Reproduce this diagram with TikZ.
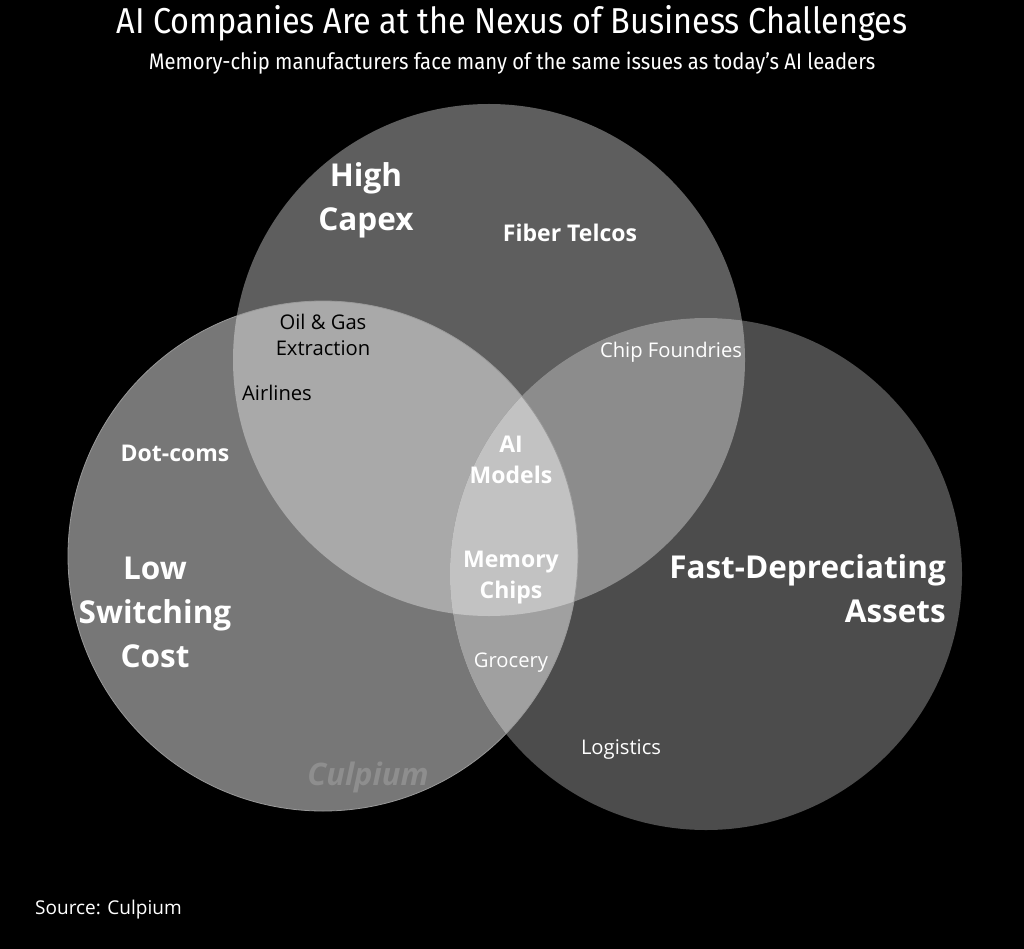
\documentclass[tikz,border=0pt]{standalone}
\usepackage{fontspec}
\setmainfont{Open Sans}
\newfontfamily\titlefont[FakeStretch=0.9]{Fira Sans}
\usetikzlibrary{positioning}

\definecolor{capexgray}{HTML}{5E5E5E}
\definecolor{switchgray}{HTML}{777777}
\definecolor{assetgray}{HTML}{4C4C4C}
\definecolor{capswitch}{HTML}{A9A9A9}
\definecolor{capasset}{HTML}{8C8C8C}
\definecolor{switchasset}{HTML}{A0A0A0}
\definecolor{nexusgray}{HTML}{C2C2C2}
\definecolor{markgray}{HTML}{8E8E8E}

\newcommand{\capexcircle}{(489,360) circle[radius=256pt]}
\newcommand{\switchcircle}{(323,556) circle[radius=255pt]}
\newcommand{\assetcircle}{(706,574) circle[radius=256pt]}

\begin{document}
\begin{tikzpicture}[x=1pt,y=-1pt,
    every node/.style={inner sep=0pt,text=white},
    bigset/.style={font=\fontsize{31.5}{44}\selectfont\bfseries,align=center},
    member/.style={font=\fontsize{23}{31}\selectfont\bfseries,align=center},
    small/.style={font=\fontsize{20.2}{26}\selectfont,align=center}]
  \fill[black] (0,0) rectangle (1024,949);
  \useasboundingbox (0,0) rectangle (1024,949);

  % the three sets
  \fill[capexgray] \capexcircle;
  \fill[switchgray] \switchcircle;
  \fill[assetgray] \assetcircle;
  \begin{scope}
    \clip \capexcircle;
    \fill[capswitch] \switchcircle;
    \fill[capasset] \assetcircle;
  \end{scope}
  \begin{scope}
    \clip \switchcircle;
    \fill[switchasset] \assetcircle;
    \clip \capexcircle;
    \fill[nexusgray] \assetcircle;
  \end{scope}
  \draw[gray!80,line width=0.8pt] \switchcircle;

  % titles
  \node[font=\titlefont\fontsize{36}{42}\selectfont] (title) at (512,23)
    {AI Companies Are at the Nexus of Business Challenges};
  \node[font=\titlefont\fontsize{22.5}{28}\selectfont] (subtitle) at (512,63)
    {Memory-chip manufacturers face many of the same issues as today’s AI leaders};

  % set names
  \node[bigset] (capex) at (366,200) {High\\Capex};
  \node[bigset] (switching) at (155,612) {Low\\Switching\\Cost};
  \node[bigset,align=right,anchor=east] (assets) at (946,589) {Fast-Depreciating\\Assets};

  % members
  \node[member] (fiber) at (570,233) {Fiber Telcos};
  \node[member] (dotcoms) at (175,453) {Dot-coms};
  \node[member] (aimodels) at (511,460) {AI\\Models};
  \node[member] (memory) at (511,578) {Memory\\Chips};
  \node[small,text=black] (oilgas) at (323,335) {Oil \& Gas\\Extraction};
  \node[small,text=black] (airlines) at (277,393) {Airlines};
  \node[small] (foundries) at (671,352) {Chip Foundries};
  \node[small] (grocery) at (511,663) {Grocery};
  \node[small] (logistics) at (621,750) {Logistics};

  % watermark and source
  \node[font=\fontsize{31}{36}\selectfont\bfseries\itshape,text=markgray] (mark) at (368,777) {Culpium};
  \node[font=\fontsize{19}{24}\selectfont,anchor=west] (source) at (35,910) {Source: Culpium};
\end{tikzpicture}
\end{document}
